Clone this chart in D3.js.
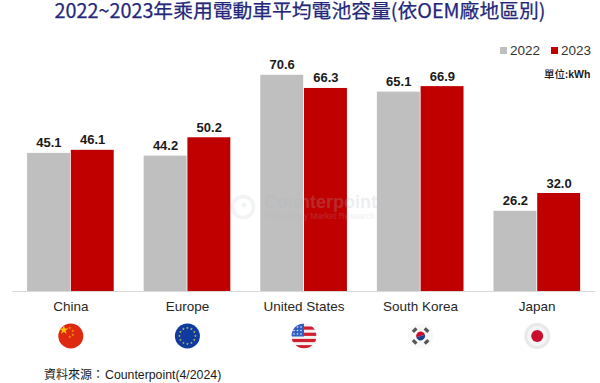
<!DOCTYPE html>
<html>
<head>
<meta charset="utf-8">
<script src="https://cdnjs.cloudflare.com/ajax/libs/d3/7.8.5/d3.min.js"></script>
<style>
  html, body { margin: 0; padding: 0; background: #fff; }
  svg { display: block; }
  text { font-family: "Liberation Sans", Arial, sans-serif; }
  .cjk { font-family: "Noto Sans CJK TC", "Noto Sans CJK SC", sans-serif; }
</style>
</head>
<body>
<div class="chart"></div>
<script>
var categories = ["China", "Europe", "United States", "South Korea", "Japan"];
var years = ["2022", "2023"];
var values2022 = [45.1, 44.2, 70.6, 65.1, 26.2];
var values2023 = [46.1, 50.2, 66.3, 66.9, 32.0];

var svgWidth = 600;
var svgHeight = 383;
var baseY = 291;
var gray = "#bfbfbf";
var red = "#c00000";

var svg = d3.select(".chart")
    .append("svg")
    .attr("width", svgWidth)
    .attr("height", svgHeight);

var x0 = d3.scaleBand().domain(categories).range([12.5, 595.5]).paddingInner(0.25).paddingOuter(0.125);
var x1 = d3.scaleBand().domain(years).range([0, x0.bandwidth()]);
var y = d3.scaleLinear().domain([0, 80]).range([baseY, 46]);

// title
svg.append("text")
    .attr("class", "cjk")
    .attr("x", 300)
    .attr("y", 18)
    .attr("text-anchor", "middle")
    .attr("font-size", 19.8)
    .attr("fill", "#23287a")
    .attr("stroke", "#23287a")
    .attr("stroke-width", 0.25)
    .text("2022~2023年乘用電動車平均電池容量(依OEM廠地區別)");

// bars
var rows = [values2022, values2023];
years.forEach(function(year, i) {
    var color = i == 0 ? gray : red;
    var g = svg.append("g");
    g.selectAll("rect")
        .data(rows[i])
        .enter()
        .append("rect")
        .attr("x", (d, j) => x0(categories[j]) + x1(year))
        .attr("y", d => y(d))
        .attr("width", x1.bandwidth() - 0.8)
        .attr("height", d => baseY - y(d))
        .attr("fill", color);
    g.selectAll("text")
        .data(rows[i])
        .enter()
        .append("text")
        .attr("x", (d, j) => x0(categories[j]) + x1(year) + x1.bandwidth() / 2)
        .attr("y", d => y(d) - 5.5)
        .attr("text-anchor", "middle")
        .attr("font-size", 13)
        .attr("font-weight", "bold")
        .attr("fill", "#1a1a1a")
        .text(d => d.toFixed(1));
});

// baseline and category labels
var bottomAxis = d3.axisBottom(x0).tickSize(0).tickPadding(10);
var axisG = svg.append("g")
    .attr("transform", `translate(0, ${baseY})`)
    .call(bottomAxis);
axisG.select(".domain").attr("stroke", "#d9d9d9").attr("d", "M12,0.5H595");
axisG.selectAll("text")
    .attr("font-family", "Liberation Sans, Arial, sans-serif")
    .attr("font-size", 13.5)
    .attr("fill", "#262626");

// watermark
var wm = svg.append("g").attr("opacity", 0.22);
wm.append("circle").attr("cx", 243).attr("cy", 207).attr("r", 10.5)
    .attr("fill", "none").attr("stroke", "#c4cbd0").attr("stroke-width", 3.5);
wm.append("circle").attr("cx", 244).attr("cy", 205).attr("r", 2.5).attr("fill", "#c4cbd0");
wm.append("text").attr("x", 264).attr("y", 208).attr("font-size", 18).attr("font-weight", "bold")
    .attr("fill", "#aeb6bd").text("Counterpoint");
wm.append("text").attr("x", 265).attr("y", 219).attr("font-size", 8.5)
    .attr("fill", "#aeb6bd").text("Technology Market Research");

// flags
var flagY = 336;
var flagR = 12.5;
var defs = svg.append("defs");
categories.forEach(function(c, i) {
    defs.append("clipPath").attr("id", "flag" + i)
        .append("circle").attr("r", flagR);
});
var flags = svg.selectAll(".flag")
    .data(categories)
    .enter()
    .append("g")
    .attr("class", "flag")
    .attr("transform", d => `translate(${x0(d) + x0.bandwidth() / 2}, ${flagY})`);

function star(g, x, y, r, color) {
    g.append("path")
        .attr("d", d3.symbol(d3.symbolStar, r * r * 3)())
        .attr("transform", `translate(${x}, ${y})`)
        .attr("fill", color);
}

// China
var cn = flags.filter((d, i) => i == 0);
cn.append("circle").attr("r", flagR).attr("fill", "#de2910");
star(cn, -7, -6, 3, "#ffc400");
[[-1, -8], [2, -5], [2, -1], [-1, 1]].forEach(p => star(cn, p[0], p[1], 1, "#f0a000"));

// Europe
var eu = flags.filter((d, i) => i == 1);
eu.append("circle").attr("r", flagR).attr("fill", "#0f3a9e");
d3.range(12).forEach(function(k) {
    var a = k * Math.PI / 6;
    star(eu, 8 * Math.cos(a), 8 * Math.sin(a), 0.9, "#c9c060");
});

// United States
var us = flags.filter((d, i) => i == 2);
var usG = us.append("g").attr("clip-path", "url(#flag2)");
usG.append("rect").attr("x", -flagR).attr("y", -flagR).attr("width", 2 * flagR).attr("height", 2 * flagR).attr("fill", "#f2f2f2");
d3.range(4).forEach(function(k) {
    usG.append("rect").attr("x", -flagR).attr("y", -9.5 + k * 6.2)
        .attr("width", 2 * flagR).attr("height", 3.2).attr("fill", "#d0202e");
});
usG.append("rect").attr("x", -flagR).attr("y", -flagR).attr("width", 12.5).attr("height", 13).attr("fill", "#2f5fc4");
d3.range(3).forEach(function(a) {
    d3.range(3).forEach(function(b) {
        usG.append("circle").attr("cx", -10 + a * 3.5).attr("cy", -9 + b * 3.5).attr("r", 0.8).attr("fill", "#e6eefc");
    });
});

// South Korea
var kr = flags.filter((d, i) => i == 3);
kr.append("circle").attr("r", flagR).attr("fill", "#f8f8f8");
kr.append("path").attr("d", d3.arc()({innerRadius: 0, outerRadius: 4.5, startAngle: -Math.PI / 2 - 0.3, endAngle: Math.PI / 2 - 0.3})).attr("fill", "#c8102e");
kr.append("path").attr("d", d3.arc()({innerRadius: 0, outerRadius: 4.5, startAngle: Math.PI / 2 - 0.3, endAngle: 3 * Math.PI / 2 - 0.3})).attr("fill", "#1d3f8f");
[45, 135, 225, 315].forEach(function(a) {
    kr.append("rect").attr("x", -2.5).attr("y", -10).attr("width", 5).attr("height", 3.2)
        .attr("transform", `rotate(${a})`).attr("fill", "#555");
});

// Japan
var jp = flags.filter((d, i) => i == 4);
jp.append("circle").attr("r", flagR + 0.5).attr("fill", "#e9e9eb");
jp.append("circle").attr("r", 10).attr("fill", "#f6f6f7");
jp.append("circle").attr("r", 6).attr("fill", "#c8102e");

// legend
var legendX = [500, 551];
years.forEach(function(year, i) {
    svg.append("rect").attr("x", legendX[i]).attr("y", 47).attr("width", 7).attr("height", 7)
        .attr("fill", i == 0 ? gray : red);
    svg.append("text").attr("x", legendX[i] + 10).attr("y", 55)
        .attr("font-size", 13.5).attr("fill", "#333").text(year);
});

// unit and source
var unit = svg.append("text").attr("x", 544).attr("y", 78).attr("fill", "#1a1a1a");
unit.append("tspan").attr("class", "cjk").attr("font-size", 10.5).attr("font-weight", 500).text("單位:");
unit.append("tspan").attr("font-size", 10.5).attr("font-weight", "bold").text("kWh");

var source = svg.append("text").attr("x", 44).attr("y", 379).attr("fill", "#1a1a1a");
source.append("tspan").attr("class", "cjk").attr("font-size", 12).text("資料來源：");
source.append("tspan").attr("font-size", 12.3).attr("dx", 1).text("Counterpoint(4/2024)");
</script>
</body>
</html>
